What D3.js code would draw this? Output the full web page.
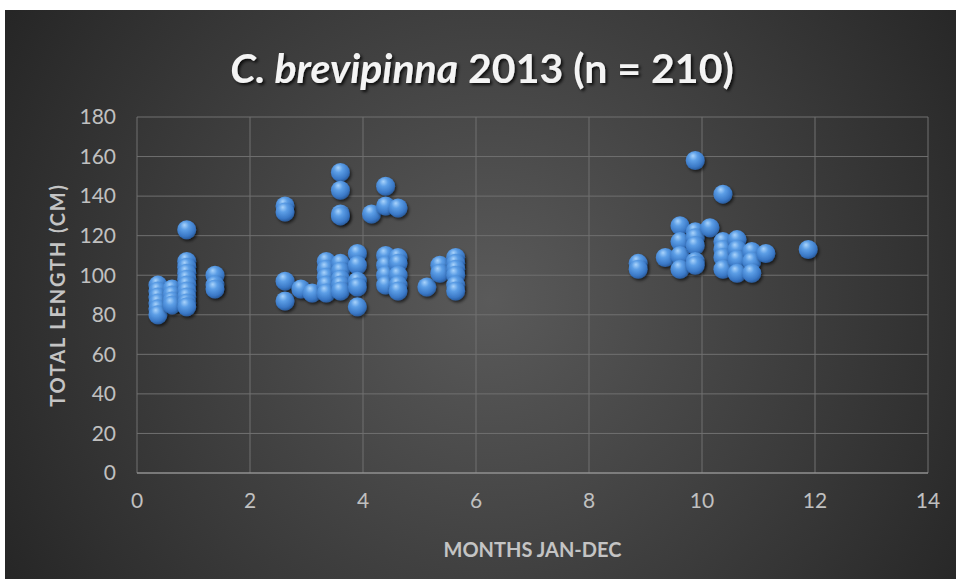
<!DOCTYPE html>
<html>
<head>
<meta charset="utf-8">
<style>
    html, body { margin: 0; padding: 0; background: #fff; }
    svg { display: block; }
    .tick-label { fill: #c0c0c0; font-family: Lato, sans-serif; font-size: 21px; }
    .axis-title { fill: #c4c4c4; font-family: Lato, sans-serif; font-size: 20px; font-weight: bold; }
</style>
</head>
<body>
<svg id="chart" width="956" height="579"></svg>

<script src="https://cdnjs.cloudflare.com/ajax/libs/d3/7.8.5/d3.min.js"></script>
<script>
    // month (decimal) for each column of points
    const months = [0.37, 0.62, 0.88, 1.38, 2.62, 2.9, 3.1, 3.35, 3.6, 3.9, 4.15, 4.4, 4.62,
        5.13, 5.36, 5.64, 8.87, 9.35, 9.61, 9.88, 10.14, 10.37, 10.62, 10.88, 11.13, 11.88];

    // total lengths (cm) seen at each month column above
    const lengths = [
        [95, 92, 89, 86, 83, 80],
        [93, 90, 87, 85],
        [123, 107, 104, 101, 98, 95, 92, 89, 86, 84],
        [100, 95, 93],
        [135, 132, 97, 87],
        [93],
        [91],
        [107, 103, 99, 95, 91],
        [152, 143, 131, 130, 106, 102, 98, 95, 92],
        [111, 105, 97, 94, 84],
        [131],
        [145, 135, 110, 105, 100, 95],
        [134, 109, 106, 100, 95, 92],
        [94],
        [105, 101],
        [109, 106, 103, 100, 95, 92],
        [106, 103],
        [109],
        [125, 117, 110, 103],
        [158, 122, 119, 115, 107, 105],
        [124],
        [141, 117, 113, 109, 103],
        [118, 113, 108, 101],
        [112, 107, 101],
        [111],
        [113]
    ];

    const xTicks = [0, 2, 4, 6, 8, 10, 12, 14];
    const yTicks = [0, 20, 40, 60, 80, 100, 120, 140, 160, 180];

    const points = months.flatMap((m, i) => lengths[i].map(v => ({ m, v })));

    const svg = d3.select('#chart');
    const W = 956, H = 579;
    const plot = { left: 137, right: 928, top: 117, bottom: 473 };

    const x = d3.scaleLinear().domain([0, 14]).range([plot.left, plot.right]);
    const y = d3.scaleLinear().domain([0, 180]).range([plot.bottom, plot.top]);

    const defs = svg.append('defs');

    const bg = defs.append('radialGradient').attr('id', 'bg')
        .attr('gradientUnits', 'userSpaceOnUse')
        .attr('cx', 490).attr('cy', 300).attr('r', 560);
    bg.append('stop').attr('offset', '0%').attr('stop-color', '#5a5a5a');
    bg.append('stop').attr('offset', '100%').attr('stop-color', '#262626');

    const ball = defs.append('radialGradient').attr('id', 'ball')
        .attr('cx', '42%').attr('cy', '35%').attr('r', '65%')
        .attr('fx', '38%').attr('fy', '25%');
    ball.append('stop').attr('offset', '0%').attr('stop-color', '#a9d3fb');
    ball.append('stop').attr('offset', '35%').attr('stop-color', '#5c9ee6');
    ball.append('stop').attr('offset', '80%').attr('stop-color', '#3a78c6');
    ball.append('stop').attr('offset', '100%').attr('stop-color', '#2a5c9e');

    const shadow = defs.append('filter').attr('id', 'shadow')
        .attr('x', '-50%').attr('y', '-50%').attr('width', '200%').attr('height', '200%');
    shadow.append('feDropShadow').attr('dx', 1.5).attr('dy', 2).attr('stdDeviation', 1.8)
        .attr('flood-color', '#000').attr('flood-opacity', 0.6);

    const titleShadow = defs.append('filter').attr('id', 'tshadow')
        .attr('x', '-10%').attr('y', '-30%').attr('width', '120%').attr('height', '160%');
    titleShadow.append('feDropShadow').attr('dx', 2).attr('dy', 2).attr('stdDeviation', 1.5)
        .attr('flood-color', '#000').attr('flood-opacity', 0.8);

    // background with the white strip on top and left
    svg.append('rect').attr('x', 5).attr('y', 10).attr('width', W - 5).attr('height', H - 10)
        .attr('fill', 'url(#bg)');

    // grid
    svg.append('g').selectAll('line.v').data(xTicks).join('line')
        .attr('x1', d => x(d)).attr('x2', d => x(d))
        .attr('y1', plot.top).attr('y2', plot.bottom)
        .attr('stroke', '#707070').attr('stroke-width', 1);

    svg.append('g').selectAll('line.h').data(yTicks.slice(1)).join('line')
        .attr('x1', plot.left).attr('x2', plot.right)
        .attr('y1', d => y(d)).attr('y2', d => y(d))
        .attr('stroke', '#707070').attr('stroke-width', 1);

    svg.append('line')
        .attr('x1', plot.left).attr('x2', plot.right)
        .attr('y1', y(0)).attr('y2', y(0))
        .attr('stroke', '#909090').attr('stroke-width', 1.5);

    // tick labels
    svg.append('g').selectAll('text').data(yTicks).join('text')
        .attr('class', 'tick-label')
        .attr('x', 116).attr('y', d => y(d)).attr('dy', '0.35em')
        .attr('text-anchor', 'end')
        .text(d => d);

    svg.append('g').selectAll('text').data(xTicks).join('text')
        .attr('class', 'tick-label')
        .attr('x', d => x(d)).attr('y', 508)
        .attr('text-anchor', 'middle')
        .text(d => d);

    // axis titles
    svg.append('text').attr('class', 'axis-title')
        .attr('x', (plot.left + plot.right) / 2).attr('y', 557)
        .attr('text-anchor', 'middle')
        .text('MONTHS JAN-DEC');

    svg.append('text').attr('class', 'axis-title')
        .attr('transform', `translate(65, ${(plot.top + plot.bottom) / 2}) rotate(-90)`)
        .attr('text-anchor', 'middle')
        .attr('letter-spacing', 1.8)
        .text('TOTAL LENGTH (CM)');

    // title
    const title = svg.append('text')
        .attr('x', 482).attr('y', 83)
        .attr('text-anchor', 'middle')
        .attr('fill', '#f4f4f4')
        .attr('font-family', 'Lato, sans-serif')
        .attr('font-size', 41)
        .attr('font-weight', 'bold')
        .attr('filter', 'url(#tshadow)');
    title.append('tspan').attr('font-style', 'italic').text('C. brevipinna');
    title.append('tspan').text(' 2013 (n = 210)');

    // points
    svg.append('g').selectAll('circle').data(points).join('circle')
        .attr('cx', d => x(d.m)).attr('cy', d => y(d.v))
        .attr('r', 9.5)
        .attr('fill', 'url(#ball)')
        .attr('filter', 'url(#shadow)');
</script>
</body>
</html>
